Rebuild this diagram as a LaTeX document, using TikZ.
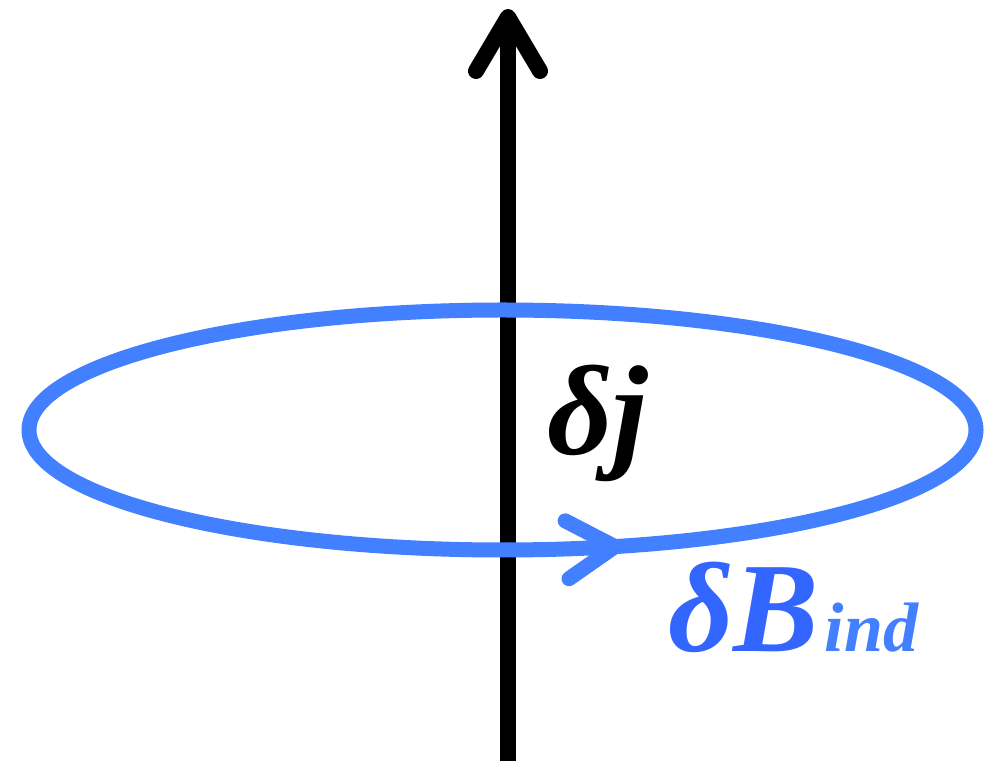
\documentclass[tikz,border=0pt]{standalone}
\usepackage{fontspec}
\setmainfont{Liberation Serif}
\usetikzlibrary{arrows.meta,decorations.markings}
\definecolor{loopblue}{RGB}{66,128,255}
\definecolor{labelblue}{RGB}{51,102,255}

\begin{document}
\begin{tikzpicture}[x=1pt,y=1pt,
    every node/.style={inner sep=0pt, outer sep=0pt},
    bigfont/.style={font=\fontsize{128}{130}\selectfont\bfseries\itshape},
    subfont/.style={font=\fontsize{70}{72}\selectfont\bfseries\itshape}]
    \useasboundingbox (0,0) rectangle (984,760);
    % current along the axis
    \coordinate (jbot) at (508,-10);
    \coordinate (jtop) at (508,751);
    \draw[line width=16pt, -{Straight Barb[length=54pt, width=64pt, round]}] (jbot) -- (jtop);
    % induced field loop
    \draw[loopblue, line width=15pt, postaction={decorate},
        decoration={markings, mark=at position 0.809 with {\arrow{Straight Barb[length=48pt, width=58pt, round]}}}]
        (502.5,330) ellipse [x radius=473.5, y radius=120];
    \node[bigfont, anchor=base west] (dj) at (547,305) {δj};
    \node[bigfont, labelblue, anchor=base west] (dB) at (668,109) {δB};
    \node[subfont, loopblue, anchor=base west] (ind) at ([xshift=6pt]dB.base east) {ind};
\end{tikzpicture}
\end{document}
